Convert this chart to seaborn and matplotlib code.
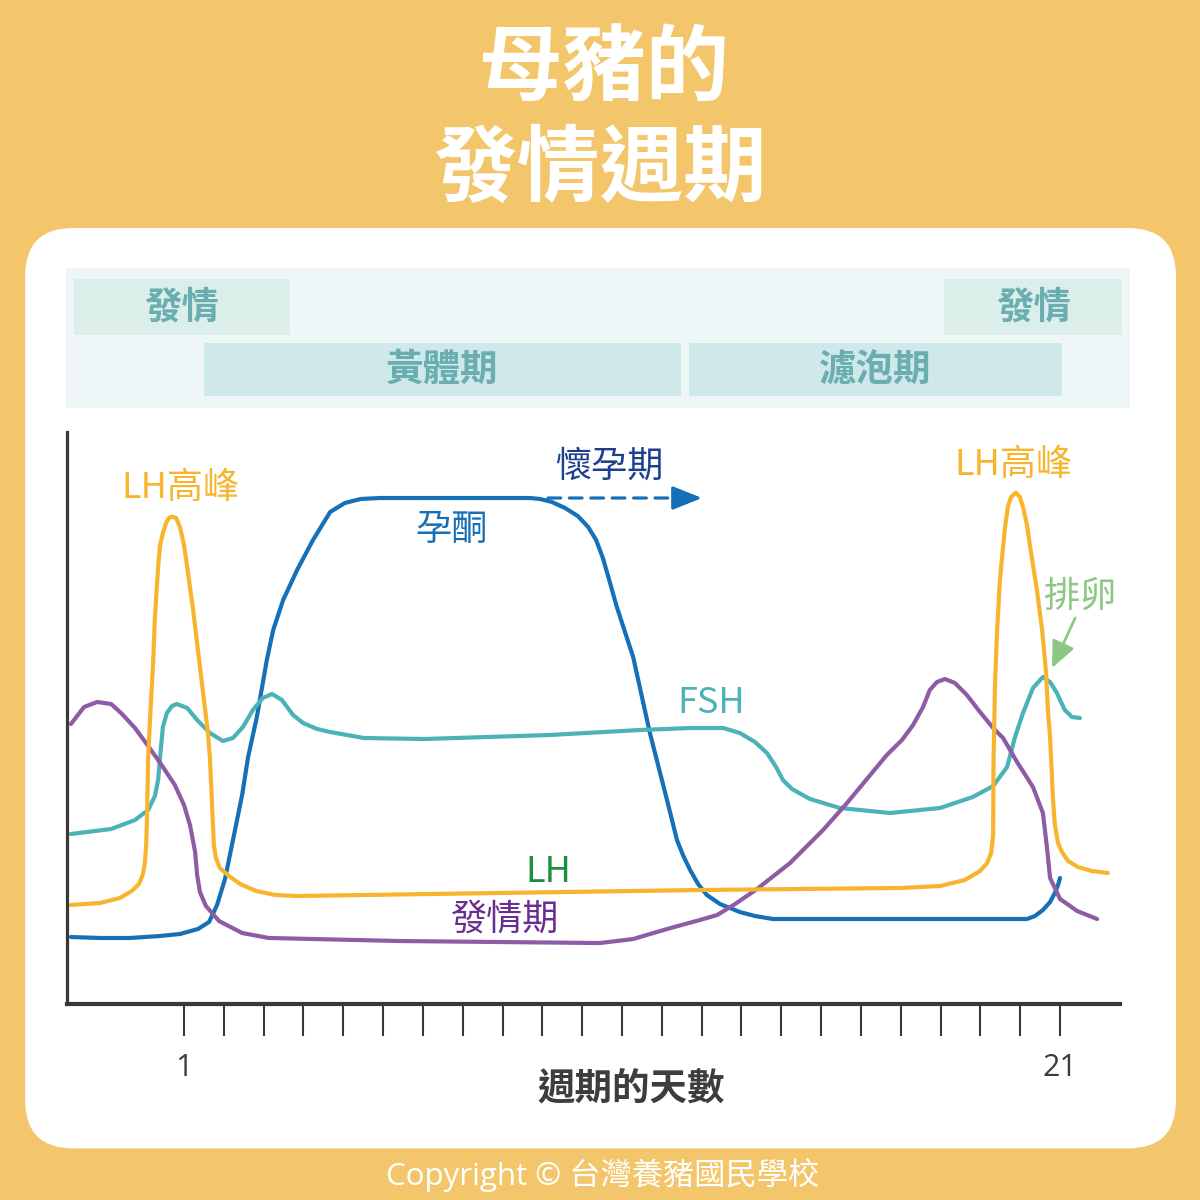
import numpy as np
import pandas as pd
import matplotlib
matplotlib.use("Agg")
import matplotlib.pyplot as plt
from matplotlib.patches import FancyBboxPatch
import seaborn as sns

# ---------------- data (x = cycle position in tick units, y = relative level 0-100) -------------
prog_x = [-2.84, -2.11, -1.36, -0.60, -0.10, 0.35, 0.63, 0.83, 1.03, 1.23, 1.46, 1.61, 1.83, 2.08,
          2.24, 2.49, 2.84, 3.24, 3.67, 4.04, 4.44, 4.92, 8.69, 8.94, 9.24, 9.57, 9.89, 10.15, 10.35,
          10.52, 10.70, 10.87, 11.28, 11.70, 12.13, 12.38, 12.53, 12.71, 12.91, 13.13, 13.46, 13.96,
          14.34, 14.79, 17.98, 21.17, 21.37, 21.57, 21.75, 21.87, 21.95, 22.00]
prog_y = [11.71, 11.54, 11.54, 11.89, 12.24, 13.11, 14.34, 17.31, 21.85, 28.67, 36.54, 43.18, 50.17,
          60.14, 65.38, 70.63, 75.87, 81.12, 86.01, 87.59, 88.29, 88.46, 88.46, 88.29, 87.76, 86.71,
          85.31, 83.39, 81.12, 77.97, 73.60, 69.41, 60.66, 47.38, 35.66, 28.67, 26.05, 23.43, 20.98,
          19.06, 17.48, 16.08, 15.38, 14.86, 14.86, 14.86, 15.38, 16.43, 17.83, 19.41, 20.80, 22.03]

lh_x = [-2.84, -2.11, -1.61, -1.31, -1.13, -1.03, -0.98, -0.95, -0.93, -0.90, -0.85, -0.78, -0.73,
        -0.65, -0.60, -0.53, -0.45, -0.38, -0.30, -0.20, -0.10, 0.00, 0.08, 0.23, 0.35, 0.48, 0.60,
        0.65, 0.70, 0.75, 0.80, 0.90, 1.13, 1.41, 1.81, 2.29, 2.81, 7.94, 12.96, 17.98, 18.99, 19.61,
        19.99, 20.17, 20.27, 20.32, 20.33, 20.37, 20.42, 20.49, 20.57, 20.62, 20.69, 20.77, 20.89,
        20.99, 21.07, 21.17, 21.25, 21.42, 21.55, 21.65, 21.70, 21.75, 21.82, 21.87, 21.95, 22.05,
        22.20, 22.45, 22.80, 23.20]
lh_y = [17.31, 17.66, 18.53, 19.76, 20.98, 22.73, 24.83, 27.80, 32.17, 43.18, 50.17, 58.92, 67.66,
        76.40, 80.24, 82.34, 84.09, 84.97, 85.19, 84.97, 83.39, 80.24, 76.40, 68.88, 61.89, 54.37,
        47.38, 43.18, 35.66, 27.80, 25.52, 23.78, 22.38, 20.98, 19.76, 19.06, 18.88, 19.41, 19.93,
        20.28, 20.63, 21.68, 23.25, 24.65, 26.40, 29.55, 42.66, 56.64, 65.38, 74.13, 79.90, 83.39,
        86.89, 88.64, 89.39, 88.64, 86.89, 83.74, 79.90, 72.38, 65.38, 57.87, 50.87, 46.68, 36.19,
        31.29, 28.15, 26.57, 25.00, 23.95, 23.25, 22.90]

fsh_x = [-2.84, -1.83, -1.23, -0.90, -0.73, -0.65, -0.60, -0.53, -0.43, -0.30, -0.18, 0.08, 0.33,
         0.65, 0.98, 1.23, 1.48, 1.73, 1.98, 2.21, 2.46, 2.74, 2.99, 3.34, 3.67, 4.52, 6.05, 9.19,
         11.45, 12.71, 13.54, 13.96, 14.34, 14.64, 14.87, 15.04, 15.27, 15.72, 16.47, 17.73, 18.99,
         19.81, 20.32, 20.67, 20.87, 21.07, 21.32, 21.57, 21.75, 21.92, 22.12, 22.30, 22.50]
fsh_y = [29.72, 30.59, 32.17, 33.92, 36.36, 39.16, 43.18, 48.43, 50.87, 52.10, 52.45, 51.75, 49.65,
         47.38, 45.98, 46.50, 48.43, 51.40, 53.50, 54.20, 53.15, 50.52, 49.13, 48.08, 47.55, 46.50,
         46.33, 47.03, 47.90, 48.25, 48.25, 47.38, 45.80, 43.88, 41.43, 39.16, 37.59, 35.84, 34.27,
         33.39, 34.27, 36.19, 38.11, 41.43, 46.68, 50.87, 55.24, 57.17, 56.29, 54.37, 51.40, 50.17,
         50.00]

estrus_x = [-2.84, -2.51, -2.18, -1.83, -1.58, -1.23, -0.90, -0.58, -0.23, 0.00, 0.15, 0.28, 0.33,
            0.40, 0.55, 0.88, 1.46, 2.13, 5.42, 10.45, 11.28, 12.13, 12.96, 13.39, 13.84, 14.39,
            15.22, 16.05, 16.65, 17.15, 17.65, 18.03, 18.31, 18.56, 18.73, 18.91, 19.11, 19.36,
            19.66, 19.99, 20.32, 20.57, 20.92, 21.32, 21.57, 21.67, 21.75, 22.00, 22.43, 22.93]
estrus_y = [48.95, 51.92, 52.80, 52.45, 50.87, 48.25, 45.10, 41.96, 38.29, 34.79, 31.29, 26.57, 22.55,
            19.58, 17.13, 14.51, 12.41, 11.54, 11.01, 10.66, 11.36, 13.11, 14.69, 15.56, 17.48, 20.10,
            24.65, 30.42, 35.14, 39.34, 43.53, 46.15, 48.78, 51.92, 54.90, 56.29, 56.82, 56.12, 54.02,
            51.05, 48.25, 46.50, 42.31, 37.94, 33.39, 27.45, 22.03, 18.36, 16.26, 14.86]

tick_days = list(range(23))
tick_labels = ["1"] + [""] * 21 + ["21"]

phase_names = ["發情", "黃體期", "濾泡期", "發情"]
phase_start = [-2.76, 0.50, 12.68, 19.09]
phase_end = [2.66, 12.48, 22.05, 23.56]
phase_row = [1, 0, 0, 1]

# ---------------- style -------------
sns.set_theme(style="white")
plt.rcParams["font.family"] = ["Noto Sans CJK TC", "DejaVu Sans"]

ORANGE = "#F4C66B"
BLUE = "#1670B8"
YELLOW = "#F7B52E"
TEAL = "#4BB2B8"
PURPLE = "#8E5BA5"
AXIS = "#3D3636"
BANDTXT = "#6AAEB1"

fig = plt.figure(figsize=(12, 12), dpi=100)
fig.patch.set_facecolor(ORANGE)

# white card (behind the axes)
card = FancyBboxPatch((0.021 + 0.04, 0.043 + 0.04), 0.959 - 0.08, 0.767 - 0.08,
                      boxstyle="round,pad=0.04", transform=fig.transFigure,
                      facecolor="white", edgecolor="none", zorder=-5)
fig.patches.append(card)

# titles
fig.text(0.503, 1 - 69 / 1200, "母豬的", ha="center", va="center", color="white",
         fontsize=60, fontweight="bold")
fig.text(0.500, 1 - 171 / 1200, "發情週期", ha="center", va="center", color="white",
         fontsize=60, fontweight="bold")
fig.text(0.5025, 1 - 1175 / 1200, "Copyright © 台灣養豬國民學校", ha="center", va="center",
         color="white", fontsize=22.5, family=["Open Sans", "Noto Sans CJK TC"])

# ---------------- phase band -------------
bx = fig.add_axes([66 / 1200, 1 - 408 / 1200, 1064 / 1200, 140 / 1200])
bx.set_facecolor("#EEF6F7")
bx.set_xlim(-2.963, 23.757)
bx.set_ylim(0, 1)
row_center = {1: 0.721, 0: 0.275}
row_h = {1: 0.40, 0: 0.378}
for name, s, e, r in zip(phase_names, phase_start, phase_end, phase_row):
    col = "#DBEEE9" if r == 1 else "#CFE8EA"
    bx.barh(row_center[r], e - s, left=s, height=row_h[r], color=col, edgecolor="none")
    bx.text((s + e) / 2, row_center[r], name, ha="center", va="center", color=BANDTXT,
            fontsize=27, fontweight="bold")
bx.set_xticks([])
bx.set_yticks([])
for sp in bx.spines.values():
    sp.set_visible(False)

# ---------------- main chart -------------
ax = fig.add_axes([67 / 1200, 1 - 1004 / 1200, 1053 / 1200, 572 / 1200])
ax.set_facecolor("none")
lw = 3.0
style = dict(linewidth=lw, sort=False, estimator=None, solid_joinstyle="round",
             solid_capstyle="round")
sns.lineplot(x=prog_x, y=prog_y, ax=ax, color=BLUE, **style)
sns.lineplot(x=fsh_x, y=fsh_y, ax=ax, color=TEAL, **style)
sns.lineplot(x=estrus_x, y=estrus_y, ax=ax, color=PURPLE, **style)
sns.lineplot(x=lh_x, y=lh_y, ax=ax, color=YELLOW, **style)

ax.set_xlim(-2.938, 23.506)
ax.set_ylim(0, 100)
for k in ["top", "right"]:
    ax.spines[k].set_visible(False)
ax.spines["left"].set_color(AXIS)
ax.spines["left"].set_linewidth(2.3)
ax.spines["bottom"].set_color(AXIS)
ax.spines["bottom"].set_linewidth(3.0)
ax.set_yticks([])
ax.set_xticks(tick_days)
ax.set_xticklabels(tick_labels)
ax.tick_params(axis="x", direction="out", length=23, width=1.5, color=AXIS, pad=12.5,
               labelsize=22, labelcolor="#3D3D3D", bottom=True)
for t in ax.get_xticklabels():
    t.set_family(["Open Sans", "DejaVu Sans"])
ax.set_xlabel("週期的天數", fontsize=27, fontweight="bold", color="#3D3D3D")
ax.xaxis.set_label_coords(0.5356, -0.147)
ax.xaxis.label.set_va("center")
ax.set_ylabel("")

# curve labels
lab = dict(ha="center", va="center", fontsize=26)
ax.text(-0.10, 90.21, "LH高峰", color=YELLOW, **lab)
ax.text(20.82, 94.23, "LH高峰", color=YELLOW, **lab)
ax.text(10.67, 93.88, "懷孕期", color="#1D3F8E", **lab)
ax.text(6.71, 82.87, "孕酮", color=BLUE, **lab)
ax.text(13.23, 52.62, "FSH", color=TEAL, **lab)
ax.text(22.50, 71.15, "排卵", color="#8CC884", **lab)
ax.text(9.14, 23.08, "LH", color="#1A8F3D", **lab)
ax.text(8.06, 14.69, "發情期", color="#6A2D90", **lab)

# gestation dashed arrow: dashed shaft + solid head
ax.annotate("", xy=(12.45, 88.46), xytext=(9.14, 88.46),
            arrowprops=dict(arrowstyle="-", color=BLUE, lw=2.3, linestyle=(0, (4, 2.7)),
                            shrinkA=0, shrinkB=0))
ax.annotate("", xy=(13.01, 88.46), xytext=(12.40, 88.46),
            arrowprops=dict(arrowstyle="-|>,head_length=1.5,head_width=0.6",
                            color=BLUE, lw=2.3, shrinkA=0, shrinkB=0))
# ovulation arrow
ax.annotate("", xy=(21.80, 58.74), xytext=(22.38, 67.48),
            arrowprops=dict(arrowstyle="-|>,head_length=1.35,head_width=0.6",
                            color="#8CC884", lw=2.0, shrinkA=0, shrinkB=0))

fig.savefig("out.png", dpi=100, facecolor=ORANGE)
